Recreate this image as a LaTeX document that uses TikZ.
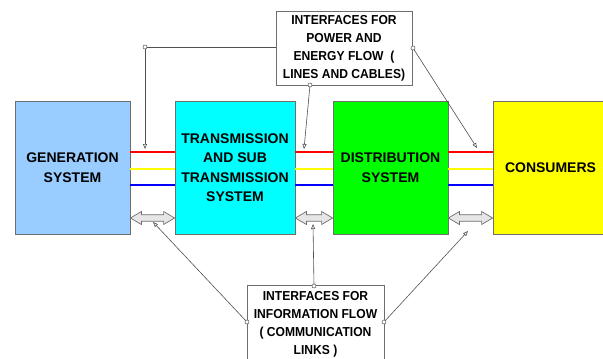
\documentclass[tikz,border=0pt]{standalone}
\usepackage{fontspec}
\setmainfont{Liberation Sans}
\newfontfamily\calloutfont[FakeStretch=0.93]{Liberation Sans}
\usetikzlibrary{arrows.meta,calc}
\definecolor{genblue}{HTML}{99CCFF}
\definecolor{transcyan}{HTML}{00FFFF}
\definecolor{distgreen}{HTML}{00FF00}
\definecolor{consyellow}{HTML}{FFFF00}
\definecolor{edgegray}{HTML}{6E6E6E}
\definecolor{leadgray}{HTML}{505050}
\definecolor{arrowfill}{HTML}{E6E6E6}
\tikzset{
  sysbox/.style={draw=edgegray, line width=0.8pt, inner sep=0pt, align=center,
    minimum height=133pt, font=\bfseries\fontsize{14}{19.5}\selectfont},
  notebox/.style={draw=edgegray, line width=0.8pt, fill=white, inner sep=0pt, align=center,
    font=\calloutfont\bfseries\fontsize{13}{18}\selectfont},
  redline/.style={draw=red, line width=2.5pt},
  yelline/.style={draw=consyellow, line width=2.5pt},
  blueline/.style={draw=blue, line width=1.5pt},
  leader/.style={draw=leadgray, line width=0.6pt, -{Triangle[open,length=5pt,width=4pt]}},
  leadplain/.style={draw=leadgray, line width=0.6pt},
  knob/.style={circle, draw=leadgray, fill=white, line width=0.5pt, inner sep=0pt, minimum size=4pt},
  flowarrow/.style={draw=edgegray, fill=arrowfill, line width=0.7pt}
}
\begin{document}
\begin{tikzpicture}[x=1pt,y=-1pt]
\useasboundingbox (0,0) rectangle (603,359);
\clip (0,0) rectangle (603,359);

% the four system blocks
\node[sysbox, fill=genblue,    minimum width=115pt] (gen)   at (72.5,167.5)  {GENERATION\\SYSTEM};
\node[sysbox, fill=transcyan,  minimum width=120pt] (trans) at (235,167.5)   {TRANSMISSION\\AND SUB\\TRANSMISSION\\SYSTEM};
\node[sysbox, fill=distgreen,  minimum width=115pt] (dist)  at (390.5,167.5) {DISTRIBUTION\\SYSTEM};
\node[sysbox, fill=consyellow, minimum width=115pt] (cons)  at (550.5,167.5) {CONSUMERS};

% power lines between neighbouring blocks
\foreach \a/\b in {gen/trans, trans/dist, dist/cons}{
  \draw[redline]  (\a.east |- 0,152) -- (\b.west |- 0,152);
  \draw[yelline]  (\a.east |- 0,169) -- (\b.west |- 0,169);
  \draw[blueline] (\a.east |- 0,185) -- (\b.west |- 0,185);
}

% information exchange arrows
\foreach \a/\b in {gen/trans, trans/dist, dist/cons}{
  \path (\a.east |- 0,218) coordinate (L) (\b.west |- 0,218) coordinate (R);
  \draw[flowarrow] (L) -- ++(11,-6.5) -- ++(0,3.2) -- ($(R)+(-11,-3.3)$) -- ++(0,-3.2) -- (R)
     -- ++(-11,6.5) -- ++(0,-3.2) -- ($(L)+(11,3.3)$) -- ++(0,3.2) -- cycle;
}

% callout boxes
\node[notebox, minimum width=136pt, minimum height=74pt] (power) at (344,48)
  {INTERFACES FOR\\POWER AND\\ENERGY FLOW\ \ (\\LINES AND CABLES)};
\node[notebox, minimum width=137pt, minimum height=78pt] (info) at (315.5,324)
  {INTERFACES FOR\\INFORMATION FLOW\\( COMMUNICATION\\LINKS )};

% callout leaders for the power interfaces
\coordinate (bend) at (145,47);
\coordinate (p1) at (145,149);
\coordinate (p2) at (304,149);
\coordinate (p3) at (477,148);
\coordinate (s2) at (310,85);
\coordinate (s3) at (413,48);
\draw[leadplain] (power.west |- bend) -- (bend);
\draw[leader] (bend) -- (p1);
\draw[leader] (s2) -- (p2);
\draw[leader] (s3) -- (p3);
\node[knob] at (bend) {};
\node[knob] at (s2) {};
\node[knob] at (s3) {};

% callout leaders for the information interfaces
\coordinate (q1) at (153,222);
\coordinate (q2) at (313,224);
\coordinate (q3) at (468,231);
\coordinate (t1) at (247,322);
\coordinate (t2) at (314,286);
\coordinate (t3) at (384,322);
\draw[leader] (t1) -- (q1);
\draw[leader] (t2) -- (q2);
\draw[leader] (t3) -- (q3);
\node[knob] at (t1) {};
\node[knob] at (t2) {};
\node[knob] at (t3) {};
\end{tikzpicture}
\end{document}
